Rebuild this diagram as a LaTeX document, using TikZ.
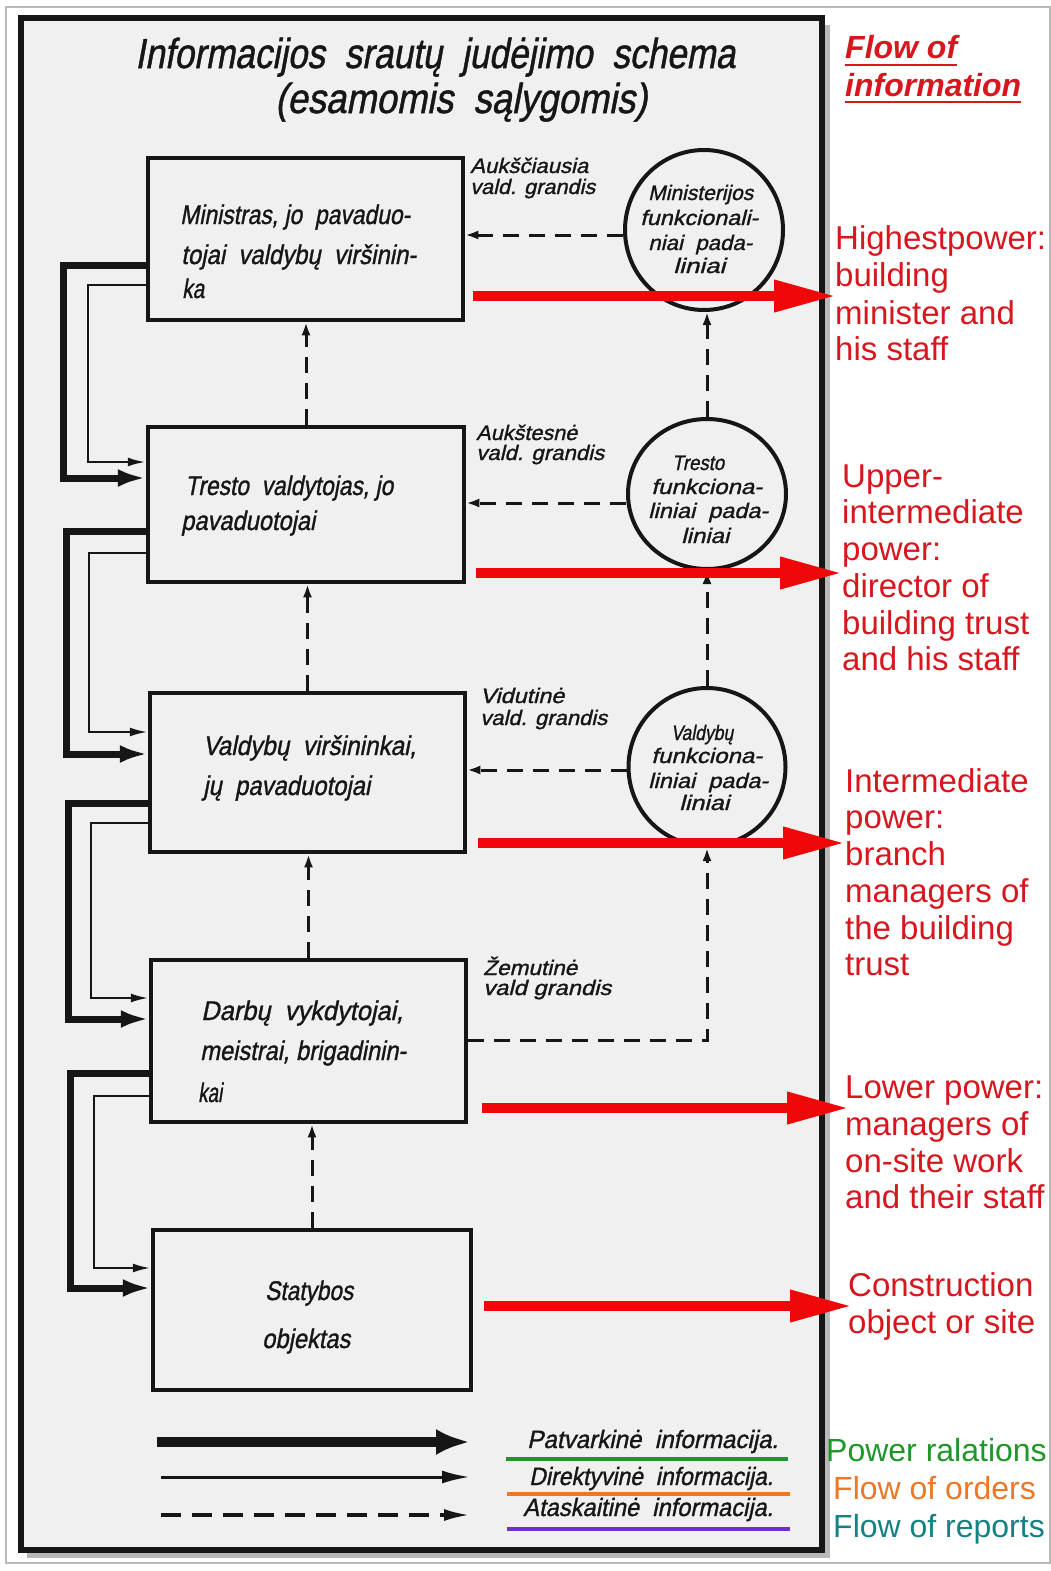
\documentclass[tikz,border=0pt]{standalone}
\usepackage{fontspec}
\usepackage{graphicx}
\setmainfont{Liberation Sans}
\newfontfamily\scanfont[FakeSlant=0.22,FakeBold=1.2]{Liberation Sans}
\usetikzlibrary{arrows.meta,shapes.geometric}
\definecolor{paper}{RGB}{240,240,240}
\definecolor{ink}{RGB}{22,22,22}
\definecolor{redtext}{RGB}{215,22,30}
\definecolor{redarrow}{RGB}{240,8,8}
\definecolor{legGreen}{RGB}{30,150,40}
\definecolor{legOrange}{RGB}{235,120,40}
\definecolor{legTeal}{RGB}{20,130,130}
\definecolor{legPurple}{RGB}{110,50,200}
\newcommand\scantxt[3]{\fontsize{#1}{#1}\selectfont\resizebox{#2pt}{\height}{#3}}
\begin{document}
\begin{tikzpicture}[x=1pt,y=-1pt,
  boxnode/.style={draw=ink, line width=4.5pt, rectangle, inner sep=0pt},
  circnode/.style={draw=ink, line width=4pt, ellipse, inner sep=0pt},
  stxt/.style={inner sep=0pt, text=ink, font=\scanfont, anchor=base west},
  rtxt/.style={inner sep=0pt, text=redtext, font=\fontsize{33}{33}\selectfont, anchor=base west},
  powerarrow/.style={draw=ink, line width=7pt, line join=miter, -{Latex[length=28pt,width=18pt]}},
  orderarrow/.style={draw=ink, line width=2.5pt, line join=miter, -{Latex[length=18pt,width=9pt]}},
  reportarrow/.style={draw=ink, line width=3pt, dash pattern=on 16pt off 10pt, -{Latex[length=13pt,width=9pt]}},
  redarrowstyle/.style={draw=redarrow, line width=10pt, -{Triangle[length=62pt,width=30pt]}},
]
\useasboundingbox (0,0) rectangle (1051,1571);
\fill[white] (0,0) rectangle (1051,1571);
\draw[gray!55, line width=1.2pt] (6,7) rectangle (1050,1563);
% scanned sheet
\fill[gray!55] (27,25) rectangle (830,1558);
\fill[paper] (21,18) rectangle (822,1550);
\draw[ink, line width=6.5pt] (21,18) rectangle (822,1550);

% title
\node[stxt] (title1) at (135,68) {\scantxt{42}{600}{Informacijos \ srautų \ judėjimo \ schema}};
\node[stxt] (title2) at (275,113) {\scantxt{42}{372}{(esamomis \ sąlygomis)}};

% boxes
\node[boxnode, minimum width=315pt, minimum height=162pt] (b1) at (305.5,239) {};
\node[boxnode, minimum width=316pt, minimum height=155pt] (b2) at (306,504.5) {};
\node[boxnode, minimum width=315pt, minimum height=159pt] (b3) at (307.5,772.5) {};
\node[boxnode, minimum width=315pt, minimum height=162pt] (b4) at (308.5,1041) {};
\node[boxnode, minimum width=318pt, minimum height=160pt] (b5) at (312,1310) {};

% box texts
\node[stxt] (b1t1) at (180,224) {\scantxt{27}{230}{Ministras, jo \ pavaduo-}};
\node[stxt] (b1t2) at (181,264) {\scantxt{27}{235}{tojai \ valdybų \ viršinin-}};
\node[stxt] (b1t3) at (182,298) {\scantxt{27}{22}{ka}};
\node[stxt] (b2t1) at (185,495) {\scantxt{27}{208}{Tresto \ valdytojas, jo}};
\node[stxt] (b2t2) at (181,530) {\scantxt{27}{134}{pavaduotojai}};
\node[stxt] (b3t1) at (203,755) {\scantxt{27}{213}{Valdybų \ viršininkai,}};
\node[stxt] (b3t2) at (203,795) {\scantxt{27}{167}{jų \ pavaduotojai}};
\node[stxt] (b4t1) at (201,1020) {\scantxt{27}{202}{Darbų \ vykdytojai,}};
\node[stxt] (b4t2) at (200,1060) {\scantxt{27}{206}{meistrai, brigadinin-}};
\node[stxt] (b4t3) at (198,1102) {\scantxt{27}{24}{kai}};
\node[stxt] (b5t1) at (265,1300) {\scantxt{27}{88}{Statybos}};
\node[stxt] (b5t2) at (262,1348) {\scantxt{27}{88}{objektas}};

% level labels
\node[stxt] (l1a) at (470,173) {\scantxt{21}{118}{Aukščiausia}};
\node[stxt] (l1b) at (470,194) {\scantxt{21}{125}{vald. grandis}};
\node[stxt] (l2a) at (476,440) {\scantxt{21}{101}{Aukštesnė}};
\node[stxt] (l2b) at (476,460) {\scantxt{21}{128}{vald. grandis}};
\node[stxt] (l3a) at (480,703) {\scantxt{21}{84}{Vidutinė}};
\node[stxt] (l3b) at (480,725) {\scantxt{21}{127}{vald. grandis}};
\node[stxt] (l4a) at (483,975) {\scantxt{21}{94}{Žemutinė}};
\node[stxt] (l4b) at (483,995) {\scantxt{21}{128}{vald grandis}};

% circles
\node[circnode, minimum width=158pt, minimum height=160pt] (c1) at (704,230) {};
\node[circnode, minimum width=158pt, minimum height=150pt] (c2) at (707,494) {};
\node[circnode, minimum width=157pt, minimum height=158pt] (c3) at (707,767) {};

\node[stxt] (c1t1) at (648,200) {\scantxt{21}{105}{Ministerijos}};
\node[stxt] (c1t2) at (640,225) {\scantxt{21}{118}{funkcionali-}};
\node[stxt] (c1t3) at (648,250) {\scantxt{21}{104}{niai \ pada-}};
\node[stxt] (c1t4) at (673,273) {\scantxt{21}{52}{liniai}};
\node[stxt] (c2t1) at (672,470) {\scantxt{21}{52}{Tresto}};
\node[stxt] (c2t2) at (651,494) {\scantxt{21}{111}{funkciona-}};
\node[stxt] (c2t3) at (648,518) {\scantxt{21}{120}{liniai \ pada-}};
\node[stxt] (c2t4) at (681,543) {\scantxt{21}{48}{liniai}};
\node[stxt] (c3t1) at (671,740) {\scantxt{21}{62}{Valdybų}};
\node[stxt] (c3t2) at (651,763) {\scantxt{21}{111}{funkciona-}};
\node[stxt] (c3t3) at (648,788) {\scantxt{21}{120}{liniai \ pada-}};
\node[stxt] (c3t4) at (679,810) {\scantxt{21}{50}{liniai}};

% report (dashed) arrows
\draw[reportarrow] (c1.west |- 0,235) -- (b1.east |- 0,235);
\draw[reportarrow] (c2.west |- 0,503) -- (b2.east |- 0,503);
\draw[reportarrow] (c3.west |- 0,770) -- (b3.east |- 0,770);
\draw[reportarrow] (b4.east |- 0,1040) -| (c3.south);
\draw[reportarrow] (c3.north) -- (c3.north |- c2.south);
\draw[reportarrow] (c2.north) -- (c2.north |- c1.south);
\draw[reportarrow] (b2.north) -- (b2.north |- b1.south);
\draw[reportarrow] (b3.north) -- (b3.north |- b2.south);
\draw[reportarrow] (b4.north) -- (b4.north |- b3.south);
\draw[reportarrow] (b5.north) -- (b5.north |- b4.south);

% power (thick) and order (thin) connectors on the left
\draw[powerarrow] (b1.west |- 0,265) -| (63,478) -- (b2.west |- 0,478);
\draw[orderarrow] (b1.west |- 0,285) -| (88,462) -- (b2.west |- 0,462);
\draw[powerarrow] (b2.west |- 0,531) -| (66,754) -- (b3.west |- 0,754);
\draw[orderarrow] (b2.west |- 0,553) -| (89,732) -- (b3.west |- 0,732);
\draw[powerarrow] (b3.west |- 0,803) -| (68,1019) -- (b4.west |- 0,1019);
\draw[orderarrow] (b3.west |- 0,823) -| (91,998) -- (b4.west |- 0,998);
\draw[powerarrow] (b4.west |- 0,1073) -| (70,1288) -- (b5.west |- 0,1288);
\draw[orderarrow] (b4.west |- 0,1096) -| (94,1268) -- (b5.west |- 0,1268);

% legend of the scan
\coordinate (lg1a) at (157,1442); \coordinate (lg1b) at (470,1442);
\coordinate (lg2a) at (161,1477); \coordinate (lg2b) at (470,1477);
\coordinate (lg3a) at (161,1515); \coordinate (lg3b) at (470,1515);
\draw[draw=ink, line width=10pt, -{Latex[length=34pt,width=26pt]}] (lg1a) -- (lg1b);
\draw[draw=ink, line width=3pt, -{Latex[length=28pt,width=13pt]}] (lg2a) -- (lg2b);
\draw[draw=ink, line width=3.5pt, dash pattern=on 20pt off 11pt, -{Latex[length=26pt,width=12pt]}] (lg3a) -- (lg3b);
\node[stxt] (lt1) at (527,1448) {\scantxt{25}{251}{Patvarkinė \ informacija.}};
\node[stxt] (lt2) at (529,1485) {\scantxt{25}{244}{Direktyvinė \ informacija.}};
\node[stxt] (lt3) at (523,1516) {\scantxt{25}{250}{Ataskaitinė \ informacija.}};
\coordinate (ul1a) at (506,1459); \coordinate (ul1b) at (788,1459);
\coordinate (ul2a) at (507,1494); \coordinate (ul2b) at (790,1494);
\coordinate (ul3a) at (507,1529); \coordinate (ul3b) at (790,1529);
\draw[legGreen, line width=4pt] (ul1a) -- (ul1b);
\draw[legOrange, line width=4pt] (ul2a) -- (ul2b);
\draw[legPurple, line width=4pt] (ul3a) -- (ul3b);

% red arrows
\coordinate (ra1) at (473,296);  \coordinate (rt1) at (836,296);
\coordinate (ra2) at (476,573);  \coordinate (rt2) at (842,573);
\coordinate (ra3) at (478,843);  \coordinate (rt3) at (845,843);
\coordinate (ra4) at (482,1108); \coordinate (rt4) at (849,1108);
\coordinate (ra5) at (484,1306); \coordinate (rt5) at (852,1306);
\draw[redarrowstyle] (ra1) -- (rt1);
\draw[redarrowstyle] (ra2) -- (rt2);
\draw[redarrowstyle] (ra3) -- (rt3);
\draw[redarrowstyle] (ra4) -- (rt4);
\draw[redarrowstyle] (ra5) -- (rt5);

% red annotations
\node[rtxt, font=\fontsize{32}{32}\selectfont\bfseries\itshape] (fl1) at (845,59) {Flow of};
\node[rtxt, font=\fontsize{32}{32}\selectfont\bfseries\itshape] (fl2) at (845,96) {information};
\draw[redtext, line width=2.5pt] ([yshift=-6pt]fl1.base west) -- ([yshift=-6pt]fl1.base east);
\draw[redtext, line width=2.5pt] ([yshift=-6pt]fl2.base west) -- ([yshift=-6pt]fl2.base east);

\node[rtxt] (h1) at (835,249) {Highestpower:};
\node[rtxt] (h2) at (835,286) {building};
\node[rtxt] (h3) at (835,324) {minister and};
\node[rtxt] (h4) at (835,360) {his staff};

\node[rtxt] (u1) at (842,487) {Upper-};
\node[rtxt] (u2) at (842,523) {intermediate};
\node[rtxt] (u3) at (842,560) {power:};
\node[rtxt] (u4) at (842,597) {director of};
\node[rtxt] (u5) at (842,634) {building trust};
\node[rtxt] (u6) at (842,670) {and his staff};

\node[rtxt] (i1) at (845,792) {Intermediate};
\node[rtxt] (i2) at (845,828) {power:};
\node[rtxt] (i3) at (845,865) {branch};
\node[rtxt] (i4) at (845,902) {managers of};
\node[rtxt] (i5) at (845,939) {the building};
\node[rtxt] (i6) at (845,975) {trust};

\node[rtxt] (w1) at (845,1098) {Lower power:};
\node[rtxt] (w2) at (845,1135) {managers of};
\node[rtxt] (w3) at (845,1172) {on-site work};
\node[rtxt] (w4) at (845,1208) {and their staff};

\node[rtxt] (s1) at (848,1296) {Construction};
\node[rtxt] (s2) at (848,1333) {object or site};

\node[rtxt, font=\fontsize{32}{32}\selectfont, text=legGreen] (g1) at (826,1461) {Power ralations};
\node[rtxt, font=\fontsize{32}{32}\selectfont, text=legOrange] (g2) at (833,1499) {Flow of orders};
\node[rtxt, font=\fontsize{32}{32}\selectfont, text=legTeal] (g3) at (833,1537) {Flow of reports};
\end{tikzpicture}
\end{document}
